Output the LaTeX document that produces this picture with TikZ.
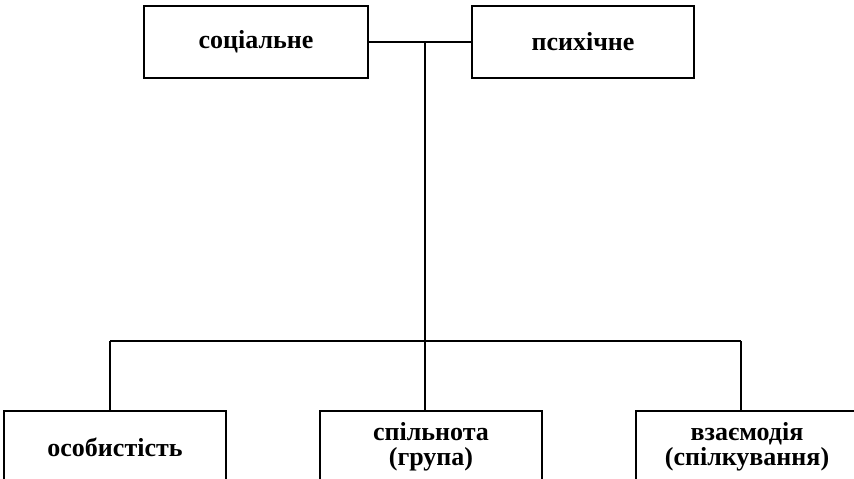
\documentclass[tikz,border=0pt]{standalone}
\usepackage{fontspec}
\setmainfont{Liberation Serif}
\usetikzlibrary{calc}

\begin{document}
\begin{tikzpicture}[x=1pt,y=-1pt,
		box/.style={draw,line width=2pt,minimum width=222pt,minimum height=72pt,
			inner sep=0pt,align=center,font=\bfseries\fontsize{26}{25}\selectfont},
		link/.style={line width=2pt}]
		\clip (0,0) rectangle (854,479);
		\useasboundingbox (0,0) rectangle (854,479);
		
		% upper row
		\node[box,minimum width=224pt] (soc) at (256,42) {соціальне};
		\node[box] (psy) at (583,42) {психічне};
		
		% lower row
		\node[box] (osob) at (115,447) {особистість};
		\node[box] (spil) at (431,447) {спільнота\\(група)};
		\node[box] (vzay) at (747,447) {взаємодія\\(спілкування)};
		
		\coordinate (top) at (425,42);
		\coordinate (hub) at (425,341);
		\coordinate (barL) at (110,341);
		\coordinate (barR) at (741,341);
		
		\draw[link] (soc) -- (psy);
		\draw[link] (top) -- (hub);
		\draw[link] (barL) -- (barR);
		\draw[link] (barL) -- (osob.north -| barL);
		\draw[link] (hub) -- (spil.north -| hub);
		\draw[link] (barR) -- (vzay.north -| barR);
	\end{tikzpicture}
\end{document}
